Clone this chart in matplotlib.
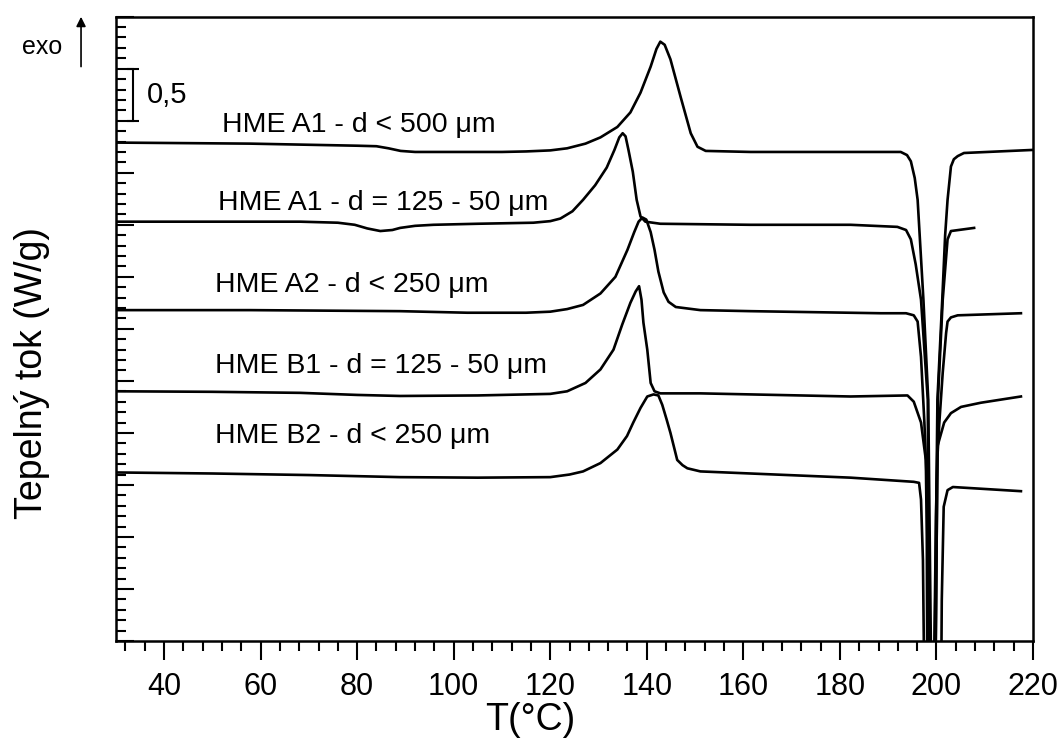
import matplotlib
matplotlib.use("Agg")
import matplotlib.pyplot as plt
from matplotlib.ticker import MultipleLocator, NullFormatter

plt.rcParams['font.family'] = ['Liberation Sans', 'DejaVu Sans']

# DSC curves, heat flow offset per sample (W/g), temperature in deg C
temp_a1_500 = [30.0, 57.8, 80.0, 84.0, 86.5, 89.0, 92.0, 100.0, 110.0, 115.0, 120.0,
               123.5, 127.3, 130.4, 133.9, 136.6, 138.7, 140.8, 142.0, 142.8, 143.7,
               144.9, 147.0, 149.1, 150.5, 152.2, 161.5, 192.6, 193.9, 194.7, 195.5,
               196.1, 197.3, 198.3, 198.9, 199.6, 200.2, 201.2, 201.8, 202.3, 203.0,
               203.6, 204.4, 205.7, 220.2]
hf_a1_500 = [4.79, 4.78, 4.76, 4.755, 4.735, 4.71, 4.70, 4.70, 4.70, 4.705, 4.715,
             4.735, 4.78, 4.84, 4.94, 5.08, 5.27, 5.52, 5.69, 5.76, 5.73,
             5.59, 5.23, 4.88, 4.75, 4.71, 4.70, 4.70, 4.67, 4.61, 4.45,
             4.24, 3.28, 2.32, -0.3, -0.3, 2.32, 3.28, 3.90, 4.24, 4.56,
             4.63, 4.66, 4.69, 4.72]

temp_a1_125 = [30.0, 68.2, 76.0, 79.5, 82.1, 84.8, 87.3, 88.9, 92.0, 95.8, 105.0,
               116.5, 120.0, 122.1, 124.6, 126.8, 129.3, 131.7, 133.3, 134.3, 135.0,
               135.6, 136.2, 137.1, 137.9, 138.7, 139.7, 142.8, 161.5, 182.2, 191.9,
               193.7, 194.7, 195.7, 196.8, 198.2, 198.5, 199.8, 200.3, 201.3, 202.3,
               203.0, 207.8]
hf_a1_125 = [4.03, 4.03, 4.02, 4.00, 3.965, 3.94, 3.95, 3.97, 3.99, 4.00, 4.01,
             4.02, 4.035, 4.06, 4.13, 4.24, 4.38, 4.55, 4.72, 4.84, 4.88,
             4.85, 4.72, 4.51, 4.24, 4.08, 4.03, 4.01, 4.00, 4.00, 3.98,
             3.95, 3.86, 3.62, 3.28, 2.32, -0.3, -0.3, 2.32, 3.28, 3.86,
             3.94, 3.97]

temp_a2_250 = [30.0, 57.8, 88.9, 102.8, 115.0, 120.0, 123.5, 126.8, 130.4, 133.5,
               136.0, 137.4, 138.3, 139.1, 139.9, 140.8, 141.6, 142.4, 143.5, 144.5,
               146.0, 151.1, 161.5, 188.5, 193.7, 195.3, 196.1, 196.8, 197.5, 198.2,
               198.6, 199.8, 200.2, 200.6, 201.3, 202.0, 202.3, 203.0, 204.4, 217.5]
hf_a2_250 = [3.18, 3.18, 3.17, 3.155, 3.155, 3.165, 3.19, 3.23, 3.34, 3.50,
             3.76, 3.93, 4.03, 4.07, 4.05, 3.93, 3.76, 3.55, 3.35, 3.26,
             3.21, 3.18, 3.17, 3.15, 3.15, 3.13, 3.07, 2.73, 2.10, 1.29,
             -0.3, -0.3, 1.77, 2.10, 2.58, 2.96, 3.07, 3.11, 3.13, 3.15]

temp_b1_125 = [30.0, 50.0, 68.2, 80.0, 88.9, 105.0, 120.0, 123.5, 127.3, 130.4,
               133.1, 134.9, 136.6, 137.7, 138.4, 138.9, 139.3, 140.1, 140.8, 141.6,
               142.8, 151.1, 182.2, 194.0, 195.3, 196.8, 197.8, 198.0, 198.1, 199.5,
               199.9, 200.2, 201.6, 203.0, 205.1, 209.2, 217.5]
hf_b1_125 = [2.40, 2.395, 2.385, 2.365, 2.355, 2.36, 2.375, 2.40, 2.48, 2.61,
             2.80, 3.04, 3.25, 3.36, 3.41, 3.28, 3.06, 2.80, 2.48, 2.40,
             2.38, 2.38, 2.35, 2.36, 2.30, 2.10, 1.74, 1.00, -0.3, -0.3,
             1.20, 1.87, 2.10, 2.19, 2.25, 2.29, 2.35]

temp_b2_250 = [30.0, 50.0, 70.0, 88.9, 105.0, 120.0, 124.0, 126.8, 130.4, 133.9,
               135.9, 137.2, 138.7, 140.1, 141.4, 142.4, 143.2, 144.1, 144.9, 146.3,
               147.4, 148.4, 151.1, 182.2, 195.3, 196.4, 196.8, 197.2, 197.45, 201.0,
               201.1, 201.5, 202.0, 202.3, 203.4, 217.5]
hf_b2_250 = [1.62, 1.61, 1.595, 1.575, 1.57, 1.575, 1.60, 1.63, 1.71, 1.84,
             1.97, 2.10, 2.24, 2.35, 2.37, 2.36, 2.27, 2.13, 2.00, 1.74,
             1.69, 1.66, 1.63, 1.57, 1.53, 1.52, 1.36, 0.78, -0.3, -0.3,
             0.39, 1.29, 1.39, 1.45, 1.48, 1.44]

labels = ['HME A1 - d < 500 \u03bcm', 'HME A1 - d = 125 - 50 \u03bcm',
          'HME A2 - d < 250 \u03bcm', 'HME B1 - d = 125 - 50 \u03bcm',
          'HME B2 - d < 250 \u03bcm']
label_x = [52.0, 51.2, 50.6, 50.6, 50.6]
label_y = [4.89, 4.14, 3.35, 2.58, 1.90]

scale_bar = 0.5
scale_bar_base = 5.0

curves = [(temp_a1_500, hf_a1_500), (temp_a1_125, hf_a1_125),
          (temp_a2_250, hf_a2_250), (temp_b1_125, hf_b1_125),
          (temp_b2_250, hf_b2_250)]

fig = plt.figure(figsize=(10.62, 7.38), dpi=100)
ax = fig.add_axes([0.109, 0.1314, 0.8637, 0.846])

for t, h in curves:
    ax.plot(t, h, color='black', lw=1.9, solid_joinstyle='round')

for x, y, s in zip(label_x, label_y, labels):
    ax.text(x, y, s, fontsize=20.5, ha='left', va='baseline')

# 0,5 W/g scale bar
ax.errorbar(33.6, scale_bar_base + scale_bar / 2, yerr=scale_bar / 2,
            color='black', capsize=4, capthick=1.5, elinewidth=1.5)
ax.text(36.4, scale_bar_base + scale_bar / 2, '0,5', fontsize=21,
        ha='left', va='center')

ax.set_xlim(30, 220)
ax.set_ylim(0, 6)
ax.xaxis.set_major_locator(MultipleLocator(20))
ax.xaxis.set_minor_locator(MultipleLocator(4))
ax.yaxis.set_major_locator(MultipleLocator(0.5))
ax.yaxis.set_minor_locator(MultipleLocator(0.1))
ax.yaxis.set_major_formatter(NullFormatter())

ax.tick_params(axis='x', which='both', direction='out', bottom=True, top=False,
               labelsize=22, width=1.5, pad=8)
ax.tick_params(axis='x', which='major', length=14)
ax.tick_params(axis='x', which='minor', length=7)
ax.tick_params(axis='y', which='both', direction='in', left=True, right=False, width=1.5)
ax.tick_params(axis='y', which='major', length=13)
ax.tick_params(axis='y', which='minor', length=7)
for sp in ax.spines.values():
    sp.set_linewidth(1.8)

ax.set_xlabel('T(\u00b0C)', fontsize=27)
ax.set_ylabel('Tepelný tok (W/g)', fontsize=27)
ax.xaxis.set_label_coords(0.452, -0.097)
ax.yaxis.set_label_coords(-0.072, 0.43)

# exo direction marker
fig.text(0.0395, 0.936, 'exo', fontsize=18, ha='center', va='center')
ax.annotate('', xy=(0.0763, 0.981), xytext=(0.0763, 0.906),
            xycoords='figure fraction', textcoords='figure fraction',
            arrowprops=dict(arrowstyle='-|>', lw=1.2, color='black',
                            mutation_scale=14))

fig.savefig('out.png', dpi=100)
